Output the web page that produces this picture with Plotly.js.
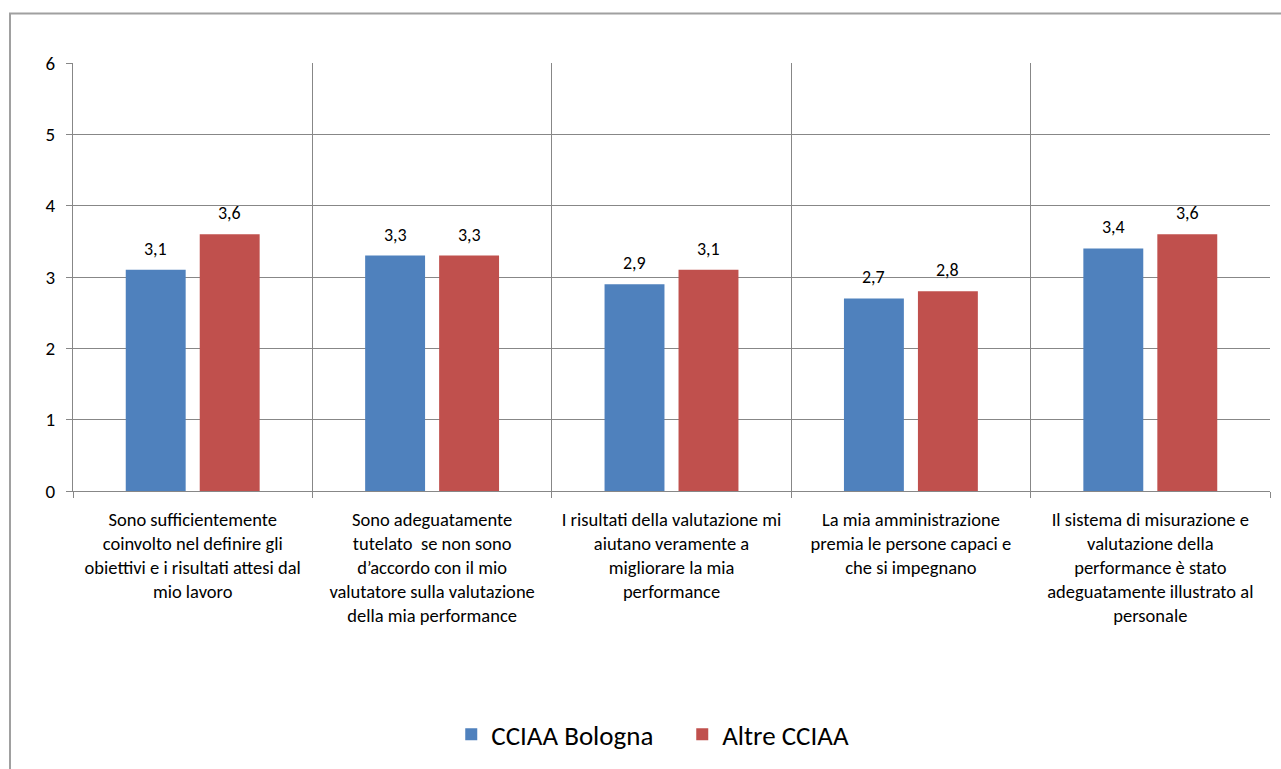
<!DOCTYPE html>
<html>
<head>
<meta charset="utf-8">
<script src="https://cdn.plot.ly/plotly-3.0.1.min.js"></script>
<style>html,body{margin:0;padding:0;background:#fff}#chart{width:1281px;height:769px}</style>
</head>
<body>
<div id="chart"></div>
<script>
const categories = [
  "Sono sufficientemente<br>coinvolto nel definire gli<br>obiettivi e i risultati attesi dal<br>mio lavoro",
  "Sono adeguatamente<br>tutelato  se non sono<br>d’accordo con il mio<br>valutatore sulla valutazione<br>della mia performance",
  "I risultati della valutazione mi<br>aiutano veramente a<br>migliorare la mia<br>performance",
  "La mia amministrazione<br>premia le persone capaci e<br>che si impegnano",
  "Il sistema di misurazione e<br>valutazione della<br>performance è stato<br>adeguatamente illustrato al<br>personale"
];
const seriesNames = ["CCIAA Bologna", "Altre CCIAA"];
const bologna = [3.1, 3.3, 2.9, 2.7, 3.4];
const altre = [3.6, 3.3, 3.1, 2.8, 3.6];
const yTicks = [0, 1, 2, 3, 4, 5, 6];

const FONT = "Carlito, Calibri, Lato, 'Open Sans', Arial, sans-serif";
const fmt = v => v.toFixed(1).replace(".", ",");

const traces = [
  {type: "bar", name: seriesNames[0], x: categories, y: bologna,
   marker: {color: "#4F81BD"}, hoverinfo: "y"},
  {type: "bar", name: seriesNames[1], x: categories, y: altre,
   marker: {color: "#C0504D"}, hoverinfo: "y"}
];

// value labels above each bar
const annotations = [];
[bologna, altre].forEach((vals, s) => {
  vals.forEach((v, i) => {
    annotations.push({x: categories[i], y: v, xref: "x", yref: "y", text: fmt(v),
      showarrow: false, yanchor: "bottom", xanchor: "center", xshift: s === 0 ? -37 : 37, yshift: 8,
      font: {size: 18, family: FONT, color: "#000"}});
  });
});

const layout = {
  width: 1281, height: 769,
  separators: ", ",
  font: {family: FONT, size: 18, color: "#000"},
  paper_bgcolor: "#fff", plot_bgcolor: "#fff",
  margin: {l: 73, r: 11, t: 63, b: 277},
  barmode: "group", bargap: 0.382, bargroupgap: 0.19,
  showlegend: true,
  legend: {orientation: "h", x: 0.316, xanchor: "left", y: -0.566, yanchor: "middle",
           font: {size: 27, family: FONT}, entrywidth: 186, entrywidthmode: "pixels"},
  annotations: annotations,
  xaxis: {type: "category", tickson: "boundaries", showgrid: true, gridcolor: "#878787", gridwidth: 1,
          ticks: "outside", ticklen: 6, tickcolor: "#878787", showline: true, linecolor: "#878787",
          linewidth: 1, tickfont: {size: 18.5}, tickangle: 0, automargin: false, ticklabelstandoff: 12},
  yaxis: {range: [0, 6], tickvals: yTicks, showgrid: true, gridcolor: "#878787", gridwidth: 1,
          ticks: "outside", ticklen: 6, tickcolor: "#878787", showline: true, linecolor: "#878787",
          linewidth: 1, zeroline: false, tickfont: {size: 19}, ticklabelstandoff: 7, automargin: false},
  shapes: [
    {type: "rect", xref: "paper", yref: "paper", x0: (10 - 73) / 1197, x1: 1.2,
     y0: -1.0, y1: 1 + (63 - 13.5) / 429, line: {color: "#A0A0A0", width: 2}, fillcolor: "rgba(0,0,0,0)", layer: "below"}
  ]
};

Plotly.newPlot("chart", traces, layout, {displayModeBar: false, responsive: false});
</script>
</body>
</html>
